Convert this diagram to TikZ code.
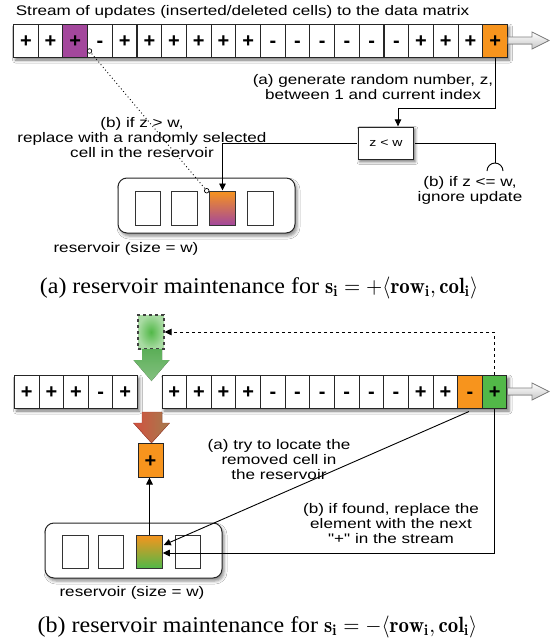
\documentclass[tikz,border=0pt]{standalone}
\usepackage{graphicx}
\usepackage{fontspec}
\newfontfamily\helv{Liberation Sans}
\newfontfamily\capserif{Liberation Serif}
\usetikzlibrary{arrows.meta,shadows.blur,calc}

\definecolor{cellpurple}{HTML}{A3479C}
\definecolor{cellorange}{HTML}{F7941D}
\definecolor{cellgreen}{HTML}{52B848}
\definecolor{lightgreen}{HTML}{A9DBA3}
\definecolor{arrowred}{HTML}{D2513F}
\definecolor{arrowbrown}{HTML}{A47C4E}
\definecolor{greentop}{HTML}{62BC5E}
\definecolor{greenbot}{HTML}{8ED08A}

\newcommand{\capmath}[1]{\scalebox{0.87}[0.98]{$#1$}}

\begin{document}
\begin{tikzpicture}[x=1pt,y=-1pt,
  txt/.style={font=\helv\fontsize{10}{10.8}\selectfont, align=center,
    xscale=1.71, yscale=1.39, inner sep=0pt},
  captext/.style={font=\capserif, xscale=2.4, yscale=2.25, inner sep=0pt},
  cell/.style={draw=black!85, line width=1pt, minimum width=24.6pt,
    minimum height=33pt, inner sep=0pt, text height=14pt, text depth=0pt,
    font=\helv\bfseries\fontsize{20}{20}\selectfont},
  rcell/.style={draw=black!80, line width=1pt, minimum width=25.5pt,
    minimum height=34pt, inner sep=0pt, fill=white},
  resbox/.style={draw=black!85, line width=1pt, rounded corners=9pt,
    minimum width=177pt, minimum height=55pt, inner sep=0pt, fill=white,
    blur shadow={shadow xshift=2pt, shadow yshift=-3pt, shadow blur radius=3pt, shadow opacity=45}},
  rowshadow/.style={fill=white,
    blur shadow={shadow xshift=2pt, shadow yshift=-3pt, shadow blur radius=3pt, shadow opacity=55}},
  conn/.style={draw=black, line width=0.9pt},
  arrowend/.style={-{Triangle[length=7pt,width=6.5pt]}},
  hollow/.style={draw=black!50, line width=0.8pt, top color=white, bottom color=black!22},
]
\useasboundingbox (0,0) rectangle (553,643);
\fill[white] (0,0) rectangle (553,643);

% ---------------- (a) insertion ----------------
\node[txt, anchor=west] (title) at (15.5,12) {Stream of updates (inserted/deleted cells) to the data matrix};

\path[rowshadow] (13.5,24) rectangle (507.5,57);
\foreach \s/\f [count=\i from 0] in {+/white,+/white,+/cellpurple,-/white,+/white,+/white,+/white,+/white,+/white,+/white,-/white,-/white,-/white,-/white,-/white,-/white,+/white,+/white,+/white,+/cellorange}
  \node[cell, fill=\f] (t\i) at ({25.85+24.7*\i},40.5) {\s};

\filldraw[hollow] (t19.east |- 0,37) -- (532,37) -- (532,32) -- (549,40.5) -- (532,49) -- (532,44) -- (t19.east |- 0,44) -- cycle;

\node[draw=black!85, line width=1pt, fill=white, minimum width=32.7pt, minimum height=23.7pt,
  xscale=1.71, yscale=1.39, inner sep=0pt, font=\helv\fontsize{8.2}{9}\selectfont,
  blur shadow={shadow xshift=1.5pt, shadow yshift=-2pt, shadow blur radius=2.5pt, shadow opacity=50}]
  (zw) at (386,143.5) {z < w};

\node[resbox] (resA) at (206.5,205.5) {};
\node[rcell] (ra1) at (148,208) {};
\node[rcell] (ra2) at (184.5,208) {};
\node[rcell, top color=cellorange, bottom color=cellpurple, draw=black!80] (ra3) at (222.5,208) {};
\node[rcell] (ra4) at (260.5,208) {};

\coordinate (bendA) at (398,108);
\draw[conn, arrowend] (t19.south) |- (bendA) -- (bendA |- zw.north);
\draw[conn, arrowend] (zw.west) -| (ra3.north);
\coordinate (stub) at (495,163);
\draw[conn] (zw.east) -| (stub);
\draw[conn] (487,171) arc[start angle=180, end angle=0, radius=8pt];

\coordinate (dotA) at (89.5,51);
\coordinate (dotB) at (206.7,190.7);
\draw[line width=0.9pt, dash pattern=on 0.9pt off 2.6pt] (dotA) -- (dotB);
\draw[line width=0.7pt, fill=white] (dotA) circle[radius=2.3pt];
\draw[line width=0.7pt, fill=white] (dotB) circle[radius=2.3pt];

\node[txt] (genlbl) at (373,87.5) {(a) generate random number, z,\\between 1 and current index};
\node[txt] (repl) at (142,137.5) {(b) if z > w,\\replace with a randomly selected\\cell in the reservoir};
\node[txt] (ign) at (470,190) {(b) if z <= w,\\ignore update};
\node[txt] (resAlbl) at (126,249) {reservoir (size = w)};

\node[captext] (capA) at (259,288) {(a) reservoir maintenance for \capmath{\mathbf{s_i}=+\langle\mathbf{row_i},\mathbf{col_i}\rangle}};

% ---------------- (b) deletion ----------------
\path[rowshadow] (14.5,375) rectangle (137.5,408);
\foreach \s [count=\i from 0] in {+,+,+,-,+}
  \node[cell, fill=white] (bl\i) at ({26.8+24.6*\i},391.5) {\s};

\path[rowshadow] (162,375) rectangle (507,408);
\foreach \s/\f [count=\i from 0] in {+/white,+/white,+/white,+/white,-/white,-/white,-/white,-/white,-/white,-/white,+/white,+/white,-/cellorange,+/cellgreen}
  \node[cell, fill=\f] (b\i) at ({174.3+24.64*\i},391.5) {\s};

\filldraw[hollow] (b13.east |- 0,388) -- (532,388) -- (532,383) -- (549,391.5) -- (532,400) -- (532,395) -- (b13.east |- 0,395) -- cycle;

\node[draw=black!75, line width=1.1pt, dashed, minimum width=26pt, minimum height=34pt, inner sep=0pt,
  inner color=cellgreen, outer color=lightgreen] (gbox) at (151,332) {};

\fill[top color=greentop, bottom color=greenbot, opacity=0.92]
  (142,349) -- (162,349) -- (162,360) -- (169.5,360) -- (151.5,381) -- (133.5,360) -- (142,360) -- cycle;

\fill[left color=arrowred, right color=arrowbrown, draw=arrowred!80!black, line width=0.4pt]
  (142,412) -- (162,412) -- (162,423) -- (169.5,423) -- (151.5,443) -- (133.5,423) -- (142,423) -- cycle;

\node[cell, fill=cellorange, minimum width=25pt, minimum height=34pt] (found) at (150.5,460) {+};

\node[resbox] (resB) at (133.5,550.5) {};
\node[rcell, minimum height=33pt] (rb1) at (75.5,551.5) {};
\node[rcell, minimum height=33pt] (rb2) at (111,551.5) {};
\node[rcell, minimum height=33pt, top color=cellorange, bottom color=cellgreen, draw=black!80] (rb3) at (149.5,551.5) {};
\node[rcell, minimum height=33pt] (rb4) at (188,551.5) {};

\draw[conn, dashed, arrowend] (b13.north) |- (gbox.east);
\draw[conn, arrowend] (rb3.north) -- (rb3.north |- found.south);
\draw[conn, arrowend] ($(b12.south)+(-1,3)$) -- ($(rb3.east)+(1,-6.5)$);
\draw[conn, arrowend] (b13.south) |- ($(rb3.east)+(0,1.5)$);

\node[txt] (locate) at (279,460) {(a) try to locate the\\removed cell in\\the reservoir};
\node[txt] (foundlbl) at (391,524) {(b) if found, replace the\\element with the next\\"+" in the stream};
\node[txt] (resBlbl) at (132,593) {reservoir (size = w)};

\node[captext] (capB) at (257.5,627) {(b) reservoir maintenance for \capmath{\mathbf{s_i}=-\langle\mathbf{row_i},\mathbf{col_i}\rangle}};
\end{tikzpicture}
\end{document}
